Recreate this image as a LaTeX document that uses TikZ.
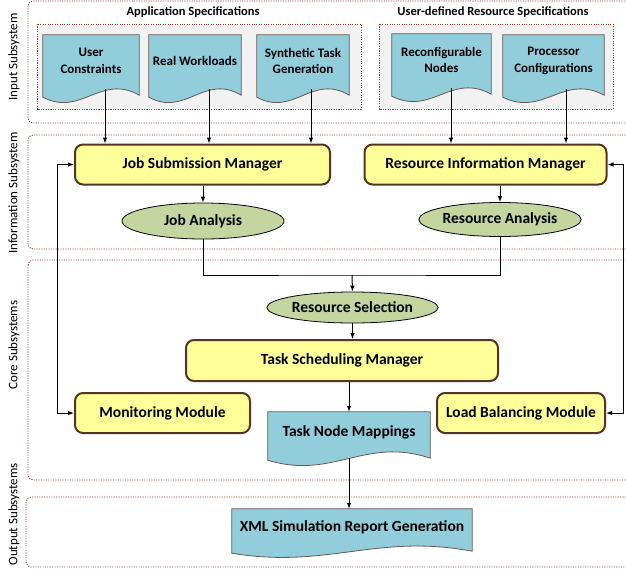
\documentclass[tikz,border=0pt]{standalone}
\usepackage{fontspec}
\setmainfont{Carlito}
\usepackage{tikz}
\usetikzlibrary{calc}
\usetikzlibrary{arrows.meta, positioning, shapes.geometric, backgrounds}

\definecolor{subline}{RGB}{150,62,52}
\definecolor{grpfill}{RGB}{242,242,242}
\definecolor{docfill}{RGB}{146,205,220}
\definecolor{docline}{RGB}{105,88,80}
\definecolor{mgrfill}{RGB}{255,255,153}
\definecolor{mgrline}{RGB}{90,50,35}
\definecolor{anafill}{RGB}{196,214,160}

\begin{document}
\begin{tikzpicture}[
  x=1pt, y=-1pt,
  >={Latex[length=6pt, width=4.5pt]},
  subsys/.style={draw=subline, line width=0.9pt, dash pattern=on 1.1pt off 1.3pt, rounded corners=5pt},
  group/.style={subsys, fill=grpfill, rounded corners=0pt},
  sidelabel/.style={rotate=90, font=\fontsize{13}{15}\selectfont},
  heading/.style={font=\bfseries\fontsize{12.5}{15}\selectfont},
  doc/.style={align=center, inner sep=0pt, font=\bfseries\fontsize{13}{16.5}\selectfont},
  docshape/.style={draw=docline, fill=docfill, line width=0.8pt},
  manager/.style={rounded corners=8pt, draw=mgrline, line width=2pt, fill=mgrfill, align=center, inner sep=0pt, font=\bfseries\fontsize{15.5}{18}\selectfont},
  analysis/.style={ellipse, draw=black, line width=0.8pt, fill=anafill, inner sep=0pt, font=\bfseries\fontsize{15.5}{18}\selectfont},
  arrow/.style={->, line width=1pt},
  line/.style={line width=1pt}
]
\useasboundingbox (0,0) rectangle (626,571);
\clip (0,0) rectangle (626,571);

% headings and side labels
\node[heading] (appspec) at (193,12) {Application Specifications};
\node[heading] (userspec) at (493,12) {User-defined Resource Specifications};

\node[sidelabel] (inlbl) at (14,57) {Input Subsystem};
\node[sidelabel] (infolbl) at (14,193) {Information Subsystem};
\node[sidelabel] (corelbl) at (14,345) {Core Subsystems};
\node[sidelabel, anchor=west] (outlbl) at (14,569) {Output Subsystems};

% input documents
\node[doc, minimum width=96pt, minimum height=52pt] (usr) at (91,61) {User\\Constraints};
\node[doc, minimum width=92pt, minimum height=52pt] (real) at (195,61) {Real Workloads};
\node[doc, minimum width=92pt, minimum height=52pt] (synth) at (303,61) {Synthetic Task\\Generation};
\node[doc, minimum width=99pt, minimum height=52pt] (reconf) at (441.5,60) {Reconfigurable\\Nodes};
\node[doc, minimum width=101pt, minimum height=52pt] (proc) at (553.5,61) {Processor\\Configurations};

% information subsystem
\node[manager, minimum width=255pt, minimum height=40pt] (jsm) at (202.5,164.5) {Job Submission Manager};
\node[manager, minimum width=242pt, minimum height=40pt] (rim) at (485.5,164.5) {Resource Information Manager};
\node[analysis, minimum width=162pt, minimum height=36pt] (ja) at (203,221) {Job Analysis};
\node[analysis, minimum width=147pt, minimum height=34pt] (ra) at (500,219.5) {Resource Analysis};

% core subsystems
\coordinate (join) at (352,275);
\node[analysis, minimum width=157pt, minimum height=31pt] (rs) at (352.5,307.5) {Resource Selection};
\node[manager, minimum width=312pt, minimum height=41pt] (tsm) at (342,360.5) {Task Scheduling Manager};
\node[manager, minimum width=175pt, minimum height=40pt] (mm) at (162.5,413) {Monitoring Module};
\node[manager, minimum width=168pt, minimum height=40pt] (lbm) at (521,413) {Load Balancing Module};
\node[doc, font=\bfseries\fontsize{15.5}{18}\selectfont, minimum width=162pt, minimum height=40pt] (tnm) at (349,432) {Task Node Mappings};

% output subsystem
\node[doc, font=\bfseries\fontsize{15.5}{18}\selectfont, minimum width=240pt, minimum height=36pt] (xml) at (352,527) {XML Simulation Report Generation};

% connectors
\foreach \d/\t/\s in {usr/jsm/14, real/jsm/14, synth/jsm/8, reconf/rim/9.5, proc/rim/12.5}
  \draw[arrow] ($(\d.south)+(\s,2)$) -- ($(\d.south |- \t.north)+(\s,0)$);
\draw[arrow] (ja.north |- jsm.south) -- (ja.north);
\draw[arrow] (ra.north |- rim.south) -- (ra.north);
\draw[line] (ja.south) |- (join) -| (ra.south);
\draw[arrow] (join) -- (rs.north);
\draw[arrow] (rs.south) -- (rs.south |- tsm.north);
\draw[arrow] (tnm.north |- tsm.south) -- (tnm.north);
\draw[arrow] ($(tnm.south)+(0,6)$) -- (tnm.south |- xml.north);
\draw[arrow, <->] (mm.west) -- ++(-17,0) |- (jsm.west);
\draw[arrow, <->] (lbm.east) -- ++(17,0) |- (rim.east);

% subsystem frames, groups and document outlines
\begin{scope}[on background layer]
  \draw[subsys] (28,1) rectangle (700,123);
  \draw[subsys] (28,135) rectangle (700,249);
  \draw[subsys] (28,260) rectangle (700,480);
  \draw[subsys] (26,497) rectangle (700,567);
  \draw[group] (37,24) rectangle (361,109);
  \draw[group] (379,24) rectangle (613,109);
  \foreach \d/\e/\a in {usr/8/22, real/8/22, synth/8/22, reconf/8/22, proc/8/22, tnm/6/22, xml/6/18}
    \path[docshape] let \p1=(\d.north west), \p2=(\d.south east) in
      (\x1,\y1) -- (\x2,\y1) -- (\x2,\y2-\e pt)
      .. controls ({\x1+0.6*(\x2-\x1)},{\y2-\e pt+\a pt}) and ({\x1+0.4*(\x2-\x1)},{\y2-\e pt-\a pt}) ..
      (\x1,\y2-\e pt-2pt) -- cycle;
\end{scope}
\end{tikzpicture}
\end{document}
